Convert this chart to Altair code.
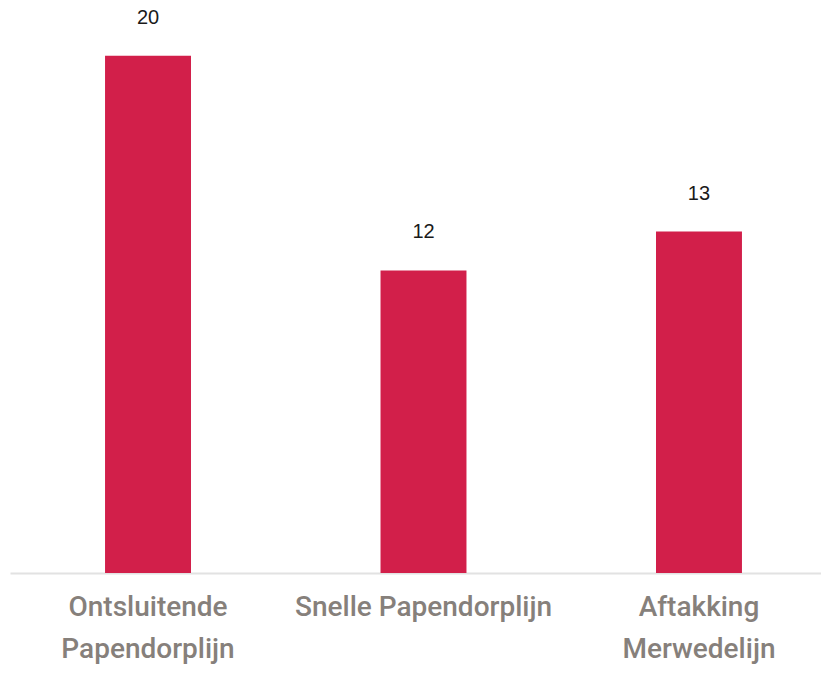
import altair as alt
import pandas as pd

categories = ["Ontsluitende|Papendorplijn", "Snelle Papendorplijn", "Aftakking|Merwedelijn"]
values = [20, 11.7, 13.2]
labels = ["20", "12", "13"]

df = pd.DataFrame({"cat": categories, "val": values, "lab": labels})

x = alt.X(
    "cat:N",
    sort=categories,
    title=None,
    scale=alt.Scale(range=[0, 827], paddingInner=0.688, paddingOuter=0.345),
    axis=alt.Axis(
        labelExpr="split(datum.value, '|')",
        labelAngle=0,
        labelFont="Roboto",
        labelFontSize=28,
        labelFontWeight=500,
        labelColor="#86807b",
        labelLineHeight=42,
        labelPadding=20,
        labelBaseline="top",
        labelLimit=600,
        labelOverlap=False,
        ticks=False,
        domainColor="#e2e2e2",
        domainWidth=2,
        grid=False,
    ),
)
y = alt.Y("val:Q", title=None, scale=alt.Scale(domain=[0, 22], nice=False), axis=None)

bars = alt.Chart(df).mark_bar(color="#d21f4a").encode(x=x, y=y)
text = alt.Chart(df).mark_text(
    baseline="bottom", dy=-28, font="Liberation Sans, Helvetica", fontSize=20, color="#1a1a1a"
).encode(x=alt.X("cat:N", sort=categories), y="val:Q", text="lab:N")

chart = (
    alt.layer(bars, text)
    .properties(
        width=811,
        height=569,
        padding={"left": 10, "top": 4, "right": 0, "bottom": 100},
        autosize=alt.AutoSizeParams(type="none"),
        view=alt.ViewBackground(stroke="transparent", strokeWidth=0),
    )
    .configure_view(strokeWidth=0, stroke="transparent")
    .configure(background="white")
)

chart.save("out.html", embed_options={"renderer": "svg", "actions": False})
